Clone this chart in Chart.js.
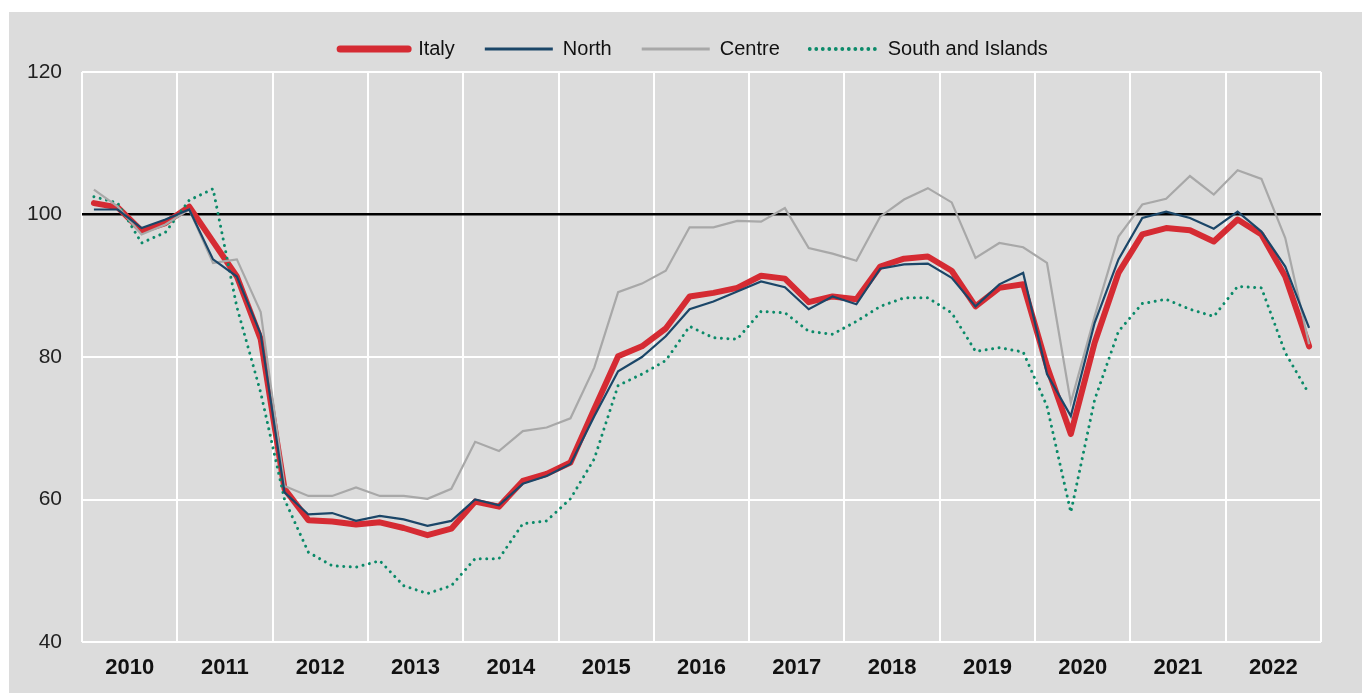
<!DOCTYPE html>
<html>
<head>
<meta charset="utf-8">
<script src="https://cdn.jsdelivr.net/npm/chart.js@4.4.0/dist/chart.umd.min.js"></script>
<style>
  html, body { margin: 0; padding: 0; background: #fff; }
  #bg { position: absolute; left: 9px; top: 12px; width: 1353px; height: 681px; background: #dcdcdc; }
  #wrap { position: absolute; left: 9px; top: 9px; width: 1353px; height: 684px; }
</style>
</head>
<body>
<div id="bg"></div>
<div id="wrap"><canvas id="chart"></canvas></div>
<script>
// year labels, one per 4 quarters (2010 Q1 .. 2022 Q4)
const years = ['2010','2011','2012','2013','2014','2015','2016','2017','2018','2019','2020','2021','2022'];

const italy = [101.6, 101.0, 97.7, 98.8, 101.1, 96.2, 91.3, 82.5,
  61.5, 57.1, 56.9, 56.5, 56.8, 56.0, 55.0, 55.9,
  59.7, 59.0, 62.6, 63.6, 65.2, 72.7, 80.1, 81.5,
  84.0, 88.5, 89.0, 89.7, 91.4, 91.0, 87.7, 88.5,
  88.1, 92.7, 93.8, 94.1, 92.1, 87.1, 89.7, 90.2,
  78.7, 69.2, 82.0, 91.8, 97.2, 98.1, 97.8, 96.2,
  99.3, 97.2, 91.3, 81.5];

const north = [100.7, 100.7, 98.1, 99.3, 100.7, 93.7, 91.3, 83.2,
  61.0, 57.9, 58.1, 57.0, 57.7, 57.2, 56.3, 57.0,
  60.0, 59.2, 62.2, 63.3, 65.0, 71.7, 78.0, 80.0,
  82.9, 86.7, 87.8, 89.2, 90.6, 89.8, 86.7, 88.5,
  87.4, 92.4, 93.0, 93.1, 91.1, 87.1, 90.2, 91.8,
  77.6, 71.7, 84.8, 93.7, 99.5, 100.4, 99.5, 98.0,
  100.4, 97.6, 92.7, 84.1];

const centre = [103.5, 101.1, 97.2, 98.6, 100.7, 93.2, 93.7, 86.3,
  61.9, 60.5, 60.5, 61.7, 60.5, 60.5, 60.1, 61.5,
  68.1, 66.8, 69.6, 70.1, 71.4, 78.5, 89.1, 90.3,
  92.1, 98.2, 98.2, 99.1, 99.0, 100.9, 95.3, 94.5,
  93.5, 99.7, 102.1, 103.7, 101.7, 93.9, 96.0, 95.4,
  93.2, 73.6, 85.7, 96.9, 101.4, 102.2, 105.4, 102.8,
  106.2, 105.0, 96.7, 81.8];

const south = [102.5, 101.6, 96.0, 97.5, 102.0, 103.6, 87.0, 75.0,
  60.0, 52.6, 50.7, 50.5, 51.4, 47.9, 46.8, 47.9,
  51.7, 51.7, 56.6, 57.0, 60.1, 65.7, 76.0, 77.6,
  79.5, 84.3, 82.7, 82.5, 86.4, 86.2, 83.6, 83.2,
  85.0, 87.1, 88.3, 88.3, 86.2, 80.8, 81.3, 80.7,
  73.1, 58.2, 74.0, 83.6, 87.5, 88.1, 86.7, 85.7,
  89.9, 89.7, 80.6, 74.8];

const FONT = "'Liberation Sans', Arial, sans-serif";

// quarter i sits in the middle of its slot on a 0..52 linear axis
const pts = arr => arr.map((v, i) => ({ x: i + 0.5, y: v }));

// legend: wide item spacing but a short box, nudged right a bit
const legendFit = {
  id: 'legendFit',
  beforeLayout(chart) {
    const lg = chart.legend;
    if (!lg || lg._patched) return;
    const fit = lg.fit;
    lg.fit = function () {
      fit.call(this);
      this.height = 63;
      this.lineWidths[0] -= 58;
    };
    lg._patched = true;
  }
};

new Chart(document.getElementById('chart'), {
  type: 'line',
  data: {
    datasets: [
      { label: 'Italy', data: pts(italy), borderColor: '#d52b33', backgroundColor: '#d52b33',
        borderWidth: 6, borderCapStyle: 'round', borderJoinStyle: 'round', order: 4 },
      { label: 'North', data: pts(north), borderColor: '#1b4668', backgroundColor: '#1b4668',
        borderWidth: 2.2, order: 1 },
      { label: 'Centre', data: pts(centre), borderColor: '#a8a8a8', backgroundColor: '#a8a8a8',
        borderWidth: 2.2, order: 2 },
      { label: 'South and Islands', data: pts(south), borderColor: '#0b8a69', backgroundColor: '#0b8a69',
        borderWidth: 3, borderDash: [0.01, 6.5], borderCapStyle: 'round', order: 3 }
    ]
  },
  options: {
    responsive: true,
    maintainAspectRatio: false,
    animation: false,
    layout: { padding: { left: 0, right: 41, top: 0, bottom: 0 } },
    elements: { point: { radius: 0 }, line: { tension: 0 } },
    plugins: {
      tooltip: { enabled: false },
      legend: {
        position: 'top',
        labels: {
          usePointStyle: true,
          pointStyle: 'line',
          pointStyleWidth: 68,
          padding: 30,
          color: '#111',
          font: { family: FONT, size: 20 },
          sort: (a, b) => a.datasetIndex - b.datasetIndex,
          generateLabels: chart =>
            Chart.defaults.plugins.legend.labels.generateLabels(chart).map(l => {
              const ds = chart.data.datasets[l.datasetIndex];
              l.lineDash = ds.borderDash || [];
              l.lineCap = ds.borderCapStyle || 'butt';
              l.lineWidth = ds.borderWidth === 6 ? 7 : ds.borderWidth + 0.8;
              return l;
            })
        }
      }
    },
    scales: {
      x: {
        type: 'linear',
        min: 0,
        max: 52,
        afterFit: s => { s.height = 51; },
        border: { display: false },
        grid: {
          drawTicks: false,
          color: c => (c.tick.value % 4 === 0 ? '#ffffff' : 'rgba(0,0,0,0)'),
          lineWidth: 2
        },
        ticks: {
          stepSize: 2,
          autoSkip: false,
          maxRotation: 0,
          padding: 13,
          color: '#111',
          font: { family: FONT, size: 22, weight: 'bold' },
          callback: v => (v % 4 === 2 ? years[(v - 2) / 4] : '')
        }
      },
      y: {
        min: 40,
        max: 120,
        afterFit: s => { s.width = 73; },
        border: { display: false },
        grid: {
          drawTicks: false,
          color: c => (c.tick.value === 100 ? '#000000' : '#ffffff'),
          lineWidth: c => (c.tick.value === 100 ? 2.5 : 2)
        },
        ticks: {
          stepSize: 20,
          padding: 20,
          color: '#222',
          font: { family: FONT, size: 21 }
        }
      }
    }
  },
  plugins: [legendFit]
});
</script>
</body>
</html>
